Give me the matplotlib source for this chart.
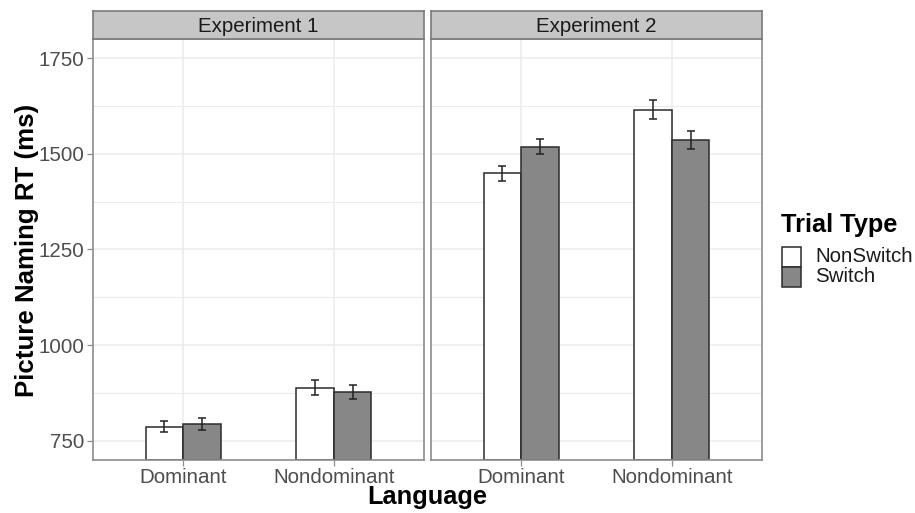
import numpy as np
import matplotlib.pyplot as plt
from matplotlib.patches import Rectangle

plt.rcParams['font.family'] = ['Liberation Sans', 'DejaVu Sans']

# data
experiments = ['Experiment 1', 'Experiment 2']
languages = ['Dominant', 'Nondominant']
trial_types = ['NonSwitch', 'Switch']
rt_nonswitch = [[787, 889], [1449, 1615]]
rt_switch = [[794, 877], [1519, 1536]]
se_nonswitch = [[15, 19], [20, 25]]
se_switch = [[15, 18], [20, 23]]
yticks = [750, 1000, 1250, 1500, 1750]
yminor = [875, 1125, 1375, 1625]

colors = {'NonSwitch': 'white', 'Switch': '#878787'}
edge = '#2b2b2b'
border = '#8c8c8c'
tick_col = '#4d4d4d'

fig = plt.figure(figsize=(9.15, 5.13), dpi=100)

W, H = 915, 513
panels = [(93, 424), (431, 762)]
top, bottom = 39, 460
strip_top = 11

x = np.arange(len(languages)) + 1
bw = 0.25

for i, (l, r) in enumerate(panels):
    ax = fig.add_axes([l / W, 1 - bottom / H, (r - l) / W, (bottom - top) / H])
    for yv in yticks + yminor:
        ax.axhline(yv, color='#ebebeb', lw=1.1 if yv in yticks else 0.8, zorder=0)
    for xv in x:
        ax.axvline(xv, color='#ebebeb', lw=1.1, zorder=0)
    for k, (vals, errs, tt) in enumerate([(rt_nonswitch[i], se_nonswitch[i], 'NonSwitch'),
                                           (rt_switch[i], se_switch[i], 'Switch')]):
        pos = x + (k - 0.5) * bw
        ax.bar(pos, np.array(vals) - 700, bottom=700, width=bw, color=colors[tt],
               edgecolor=edge, lw=1.1, zorder=2, label=tt)
        ax.errorbar(pos, vals, yerr=errs, fmt='none', ecolor='#222222', elinewidth=1.1,
                    capsize=2.6, capthick=1.1, zorder=3)
    ax.set_xlim(0.4, 2.6)
    ax.set_ylim(700, 1800)
    ax.set_xticks(x)
    ax.set_xticklabels(languages, fontsize=14.8, color=tick_col)
    ax.set_yticks(yticks)
    if i == 0:
        ax.set_yticklabels([str(v) for v in yticks], fontsize=14.8, color=tick_col)
    else:
        ax.tick_params(axis='y', left=False, labelleft=False)
    ax.tick_params(axis='both', color=border, length=4, width=0.9, pad=2)
    for s in ax.spines.values():
        s.set_color(border)
        s.set_linewidth(1.2)
    ax.set_facecolor('white')

    sax = fig.add_axes([l / W, 1 - top / H, (r - l) / W, (top - strip_top) / H])
    sax.set_facecolor('#c6c6c6')
    sax.set_xticks([])
    sax.set_yticks([])
    for s in sax.spines.values():
        s.set_color('#7a7a7a')
        s.set_linewidth(1.2)
    sax.text(0.5, 0.45, experiments[i], ha='center', va='center', fontsize=14.8,
             color='#1a1a1a', transform=sax.transAxes)

fig.text(27 / W, 1 - 250 / H, 'Picture Naming RT (ms)', rotation=90, ha='center',
         va='center', fontsize=18.6, fontweight='bold')
fig.text(427 / W, 1 - 497 / H, 'Language', ha='center', va='center', fontsize=18.3,
         fontweight='bold')

# legend
fig.text(781 / W, 1 - 225 / H, 'Trial Type', ha='left', va='center', fontsize=18.3,
         fontweight='bold')
key_x, key_w, key_h = 782, 19, 20
for k, tt in enumerate(trial_types):
    ky = 247 + k * key_h
    fig.patches.append(Rectangle((key_x / W, 1 - (ky + key_h) / H), key_w / W, key_h / H,
                                 transform=fig.transFigure, facecolor=colors[tt],
                                 edgecolor=edge, lw=1.1))
    fig.text(815 / W, 1 - (ky + key_h / 2) / H, tt, ha='left', va='center', fontsize=14.8,
             color='#1a1a1a')

fig.savefig('out.png', dpi=100)
